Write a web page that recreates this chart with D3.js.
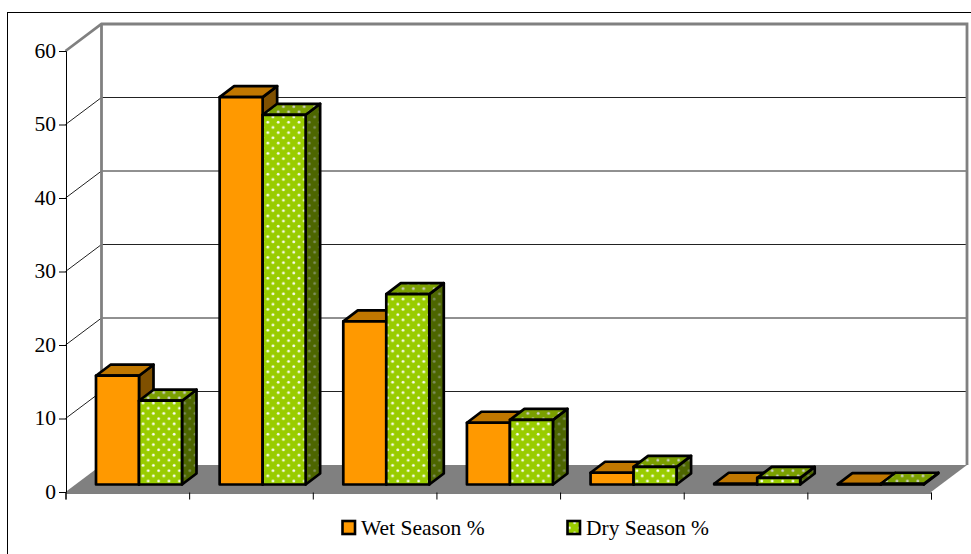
<!DOCTYPE html>
<html><head><meta charset="utf-8">
<script src="https://cdn.jsdelivr.net/npm/d3@7/dist/d3.min.js"></script>
<style>html,body{margin:0;padding:0;background:#fff}svg{display:block}text{font-family:"Liberation Serif",serif;fill:#000}</style>
</head><body><div id="c"></div>
<script>
const categories = ["A","B","C","D","E","F","G"];
const wetSeason = [14.8, 52.7, 22.2, 8.4, 1.6, 0.1, 0.05];
const drySeason = [11.4, 50.3, 25.9, 8.8, 2.4, 0.9, 0.1];
const yTicks = [0,10,20,30,40,50,60];
const seriesNames = ["Wet Season %","Dry Season %"];

const W=971,H=554;
const svg=d3.select("#c").append("svg").attr("width",W).attr("height",H);
const defs=svg.append("defs");
function dots(id,bg,dot){
  const p=defs.append("pattern").attr("id",id).attr("patternUnits","userSpaceOnUse").attr("width",10.4).attr("height",10.4);
  p.append("rect").attr("width",10.4).attr("height",10.4).attr("fill",bg);
  [[2.6,2.6],[7.8,7.8]].forEach(d=>{
    p.append("circle").attr("cx",d[0]).attr("cy",d[1]).attr("r",1.5).attr("fill",dot).attr("opacity",0.75);
    p.append("rect").attr("x",d[0]-0.8).attr("y",d[1]-0.8).attr("width",1.6).attr("height",1.6).attr("fill",dot);
  });
}
dots("pf","#99cc00","#ffffff");dots("pt","#7a9f00","#d0d0d0");dots("ps","#4d6600","#7f8f60");

const x0=65.5,x1=931,y0=492,y60=51,dx=36,dy=27,bdx=14.5,bdy=11;
const barOffX=10,barOffY=7.5;
svg.append("rect").attr("x",7.5).attr("y",12.5).attr("width",W+5).attr("height",H+5).attr("fill","#fff").attr("stroke","#000").attr("stroke-width",1);

const y=d3.scaleLinear().domain([0,60]).range([y0,y60]);
const x=d3.scaleBand().domain(categories).range([x0,x1]);
const xBounds=d3.scaleLinear().domain([0,categories.length]).range([x0,x1]);
const groupPad=20.5;
const barW=43;

// walls
const grid=svg.append("g");
yTicks.filter(t=>t>0&&t<60).forEach(t=>{
  grid.append("path").attr("d",`M${x0},${y(t)}L${x0+dx},${y(t)-dy}L${x1+dx},${y(t)-dy}`).attr("fill","none").attr("stroke","#222").attr("stroke-width",1);
});
svg.append("path").attr("d",`M${x0},${y(60)}L${x0+dx},${y(60)-dy}L${x1+dx},${y(60)-dy}L${x1+dx},${y(0)-dy}`).attr("fill","none").attr("stroke","#808080").attr("stroke-width",2.8);
svg.append("path").attr("d",`M${x0+dx},${y(60)-dy}L${x0+dx},${y(0)-dy}`).attr("stroke","#808080").attr("stroke-width",2.8);
// floor
svg.append("path").attr("d",`M${x0},${y0}L${x1},${y0}L${x1+dx},${y0-dy}L${x0+dx},${y0-dy}Z`).attr("fill","#808080");

// axes
const ax=svg.append("g").attr("transform",`translate(${x0+0.5},0)`).call(d3.axisLeft(y).tickValues(yTicks).tickSize(7).tickPadding(3).tickFormat(d3.format("d")));
ax.selectAll("text").attr("font-size",21.5).attr("font-family","Liberation Serif").attr("fill","#000").attr("dy","0.3em");
ax.selectAll("path,line").attr("stroke","#000").attr("stroke-width",1);
const bx=svg.append("g").attr("transform",`translate(0,${y0+0.5})`).call(d3.axisBottom(xBounds).tickValues(d3.range(categories.length+1)).tickSize(7).tickFormat(""));
bx.selectAll("path,line").attr("stroke","#000").attr("stroke-width",1);

// bars
const styles=[{f:"#ff9900",t:"#c07700",s:"#7f5000"},{f:"url(#pf)",t:"url(#pt)",s:"url(#ps)"}];
const bars=[];
categories.forEach((c,i)=>{bars.push({c,k:0,v:wetSeason[i]});bars.push({c,k:1,v:drySeason[i]});});
svg.selectAll("g.bar").data(bars).enter().append("g").attr("class","bar").each(function(d){
  const g=d3.select(this),st=styles[d.k];
  const l=x(d.c)+groupPad+barOffX+d.k*barW,r=l+barW,b=y(0)-barOffY,t=y(d.v)-barOffY;
  const add=(p,f)=>g.append("path").attr("d",p).attr("fill",f).attr("stroke","#000").attr("stroke-width",2.7).attr("stroke-linejoin","round");
  add(`M${r},${t}L${r+bdx},${t-bdy}L${r+bdx},${b-bdy}L${r},${b}Z`,st.s);
  add(`M${l},${t}L${l+bdx},${t-bdy}L${r+bdx},${t-bdy}L${r},${t}Z`,st.t);
  add(`M${l},${t}L${r},${t}L${r},${b}L${l},${b}Z`,st.f);
});

// legend
const lg=svg.append("g");
[341,566].forEach((lx,i)=>{
  lg.append("rect").attr("x",lx+1.5).attr("y",521).attr("width",12.5).attr("height",13).attr("fill",i?"url(#pf)":"#ff9900").attr("stroke","#000").attr("stroke-width",2.6);
  lg.append("text").attr("x",lx+20).attr("y",535).attr("font-size",21.5).text(seriesNames[i]);
});
</script></body></html>
